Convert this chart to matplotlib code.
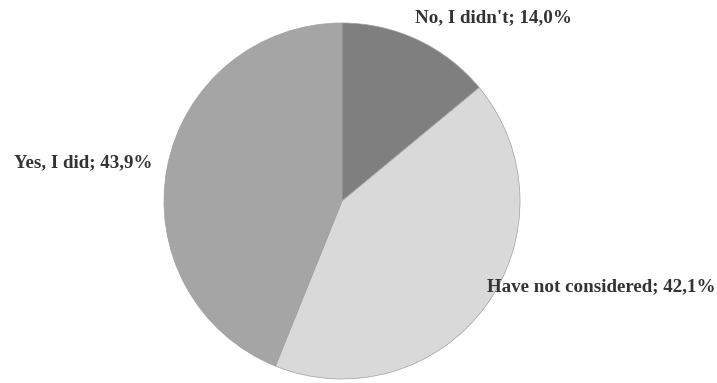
import matplotlib
matplotlib.use("Agg")
import matplotlib.pyplot as plt

# Survey answers, clockwise from 12 o'clock
categories = ["No, I didn't", "Have not considered", "Yes, I did"]
shares = [14.0, 42.1, 43.9]
colors = ["#7f7f7f", "#d9d9d9", "#a5a5a5"]

W, H = 717, 383
fig = plt.figure(figsize=(W / 100, H / 100), dpi=100)
ax = fig.add_axes([0, 0, 1, 1])

cx, cy, r = 342, H - 201, 178
ax.pie(shares, colors=colors, startangle=90, counterclock=False,
       center=(cx, cy), radius=r, frame=True,
       wedgeprops=dict(edgecolor="#a0a0a0", linewidth=0.5))
ax.set_xlim(0, W)
ax.set_ylim(0, H)
ax.set_aspect("equal")
ax.axis("off")

# label anchor points (left edge, vertical centre) in pixel space
label_pos = [(415, 18), (487, 287), (14, 163)]
for name, val, (x, y) in zip(categories, shares, label_pos):
    txt = f"{name}; {val:.1f}%".replace(".", ",")
    ax.text(x, H - y, txt, ha="left", va="center", fontsize=13.7,
            fontweight="bold", family="Liberation Serif", color="#333333")

fig.savefig("out.png", dpi=100)
